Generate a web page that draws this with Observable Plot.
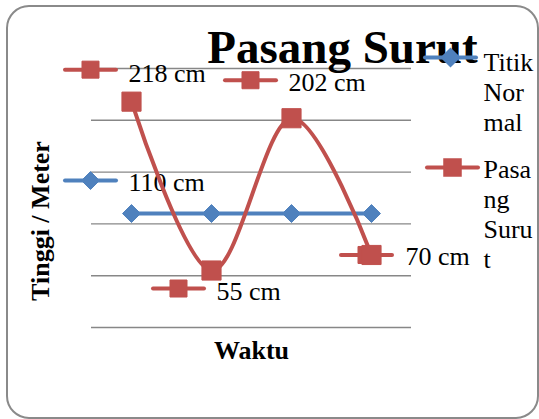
<!DOCTYPE html>
<html><head><meta charset="utf-8">
<script src="https://cdn.jsdelivr.net/npm/d3@7"></script>
<script src="https://cdn.jsdelivr.net/npm/@observablehq/plot@0.6"></script>
<style>body{margin:0;background:#fff}#chart svg{display:block}</style>
</head><body><div id="chart"></div>
<script>
// ---- data ----
const categories = ["1", "2", "3", "4"];
const titikNormal = [110, 110, 110, 110];
const pasangSurut = [218, 55, 202, 70];
const yTicks = [0, 50, 100, 150, 200, 250];
const seriesNames = ["Titik Normal", "Pasang Surut"];
const legendTexts = ["Titik\nNor\nmal", "Pasa\nng\nSuru\nt"];
const chartTitle = "Pasang Surut";
const xTitle = "Waktu";
const yTitle = "Tinggi / Meter";

// ---- styling ----
const BLUE = "#4F81BD", RED = "#C0504D", GRID = "#878787";
const FONT = "Liberation Serif, Times New Roman, serif";

const blue = categories.map((c, i) => ({cat: c, v: titikNormal[i], series: seriesNames[0]}));
const red = categories.map((c, i) => ({cat: c, v: pasangSurut[i], series: seriesNames[1]}));

const lineSym = {draw(ctx) { ctx.moveTo(-25.5, 0); ctx.lineTo(25.5, 0); }};

// data label placement (pixel offsets from the point): key dx, key dy, text dx, text dy
const labelPlacement = [
  [red[0], -41, -32, -3, -20],
  [red[1], -33, 18, 5, 29],
  [red[2], -41, -38, -3, -27],
  [red[3], -5, 0, 34, 10],
  [blue[0], -41, -33, -3, -23]
];

function labelMarks([d, kdx, kdy, tdx, tdy]) {
  const isRed = d.series === seriesNames[1];
  const col = isRed ? RED : BLUE;
  return [
    Plot.dot([d], {x: "cat", y: "v", symbol: lineSym, fill: "none", stroke: col, strokeWidth: 4, strokeLinecap: "round", dx: kdx, dy: kdy}),
    Plot.dot([d], {x: "cat", y: "v", symbol: isRed ? "square" : "diamond2", r: isRed ? 9.6 : 8.1, fill: col, stroke: col, strokeWidth: 1, dx: kdx, dy: kdy}),
    Plot.text([d], {x: "cat", y: "v", text: (e) => `${e.v} cm`, dx: tdx, dy: tdy, textAnchor: "start", lineAnchor: "bottom", fontSize: 26, fontFamily: FONT, fill: "black"})
  ];
}

const plot = Plot.plot({
  width: 539,
  height: 419,
  marginLeft: 91,
  marginRight: 128,
  marginTop: 68,
  marginBottom: 92,
  style: {fontFamily: FONT, background: "white"},
  x: {type: "point", domain: categories, padding: 0.5, axis: null},
  y: {domain: [0, 250], axis: null},
  marks: [
    Plot.ruleY(yTicks, {stroke: GRID, strokeWidth: 1.4}),
    ...labelPlacement.flatMap(labelMarks),
    Plot.line(blue, {x: "cat", y: "v", stroke: BLUE, strokeWidth: 4}),
    Plot.dot(blue, {x: "cat", y: "v", symbol: "diamond2", r: 8.1, fill: BLUE, stroke: BLUE, strokeWidth: 1}),
    Plot.line(red, {x: "cat", y: "v", stroke: RED, strokeWidth: 4, curve: "cardinal"}),
    Plot.dot(red, {x: "cat", y: "v", symbol: "square", r: 10.8, fill: RED, stroke: RED, strokeWidth: 1}),
    // title
    Plot.text([chartTitle], {frameAnchor: "top", text: (d) => d, dx: 91, dy: -6, lineAnchor: "bottom", fontSize: 47, fontWeight: "bold", fontFamily: FONT, fill: "black"}),
    // axis titles
    Plot.text([xTitle], {frameAnchor: "bottom", text: (d) => d, dy: 31, lineAnchor: "bottom", fontSize: 26, fontWeight: "bold", fontFamily: FONT, fill: "black"}),
    Plot.text([yTitle], {frameAnchor: "left", text: (d) => d, dx: -43, dy: 23, rotate: -90, textAnchor: "middle", lineAnchor: "bottom", fontSize: 26, fontWeight: "bold", fontFamily: FONT, fill: "black"}),
    // legend
    Plot.dot([0], {frameAnchor: "top-right", symbol: lineSym, fill: "none", stroke: BLUE, strokeWidth: 4, strokeLinecap: "round", dx: 39, dy: -11}),
    Plot.dot([0], {frameAnchor: "top-right", symbol: "diamond2", r: 8.1, fill: BLUE, stroke: BLUE, dx: 39, dy: -11}),
    Plot.text([legendTexts[0]], {frameAnchor: "top-right", text: (d) => d, dx: 72, dy: -19.5, textAnchor: "start", lineAnchor: "top", lineHeight: 1.17, fontSize: 26, fontFamily: FONT, fill: "black"}),
    Plot.dot([0], {frameAnchor: "top-right", symbol: lineSym, fill: "none", stroke: RED, strokeWidth: 4, strokeLinecap: "round", dx: 41, dy: 99}),
    Plot.dot([0], {frameAnchor: "top-right", symbol: "square", r: 9.6, fill: RED, stroke: RED, dx: 41, dy: 99}),
    Plot.text([legendTexts[1]], {frameAnchor: "top-right", text: (d) => d, dx: 72, dy: 88.5, textAnchor: "start", lineAnchor: "top", lineHeight: 1.15, fontSize: 26, fontFamily: FONT, fill: "black"})
  ]
});

d3.select(plot).append("rect")
  .attr("x", 7).attr("y", 6).attr("width", 531).attr("height", 412)
  .attr("rx", 22).attr("ry", 22)
  .attr("fill", "none").attr("stroke", "#8a8a8a").attr("stroke-width", 2);

document.getElementById("chart").appendChild(plot);
</script>
</body></html>
